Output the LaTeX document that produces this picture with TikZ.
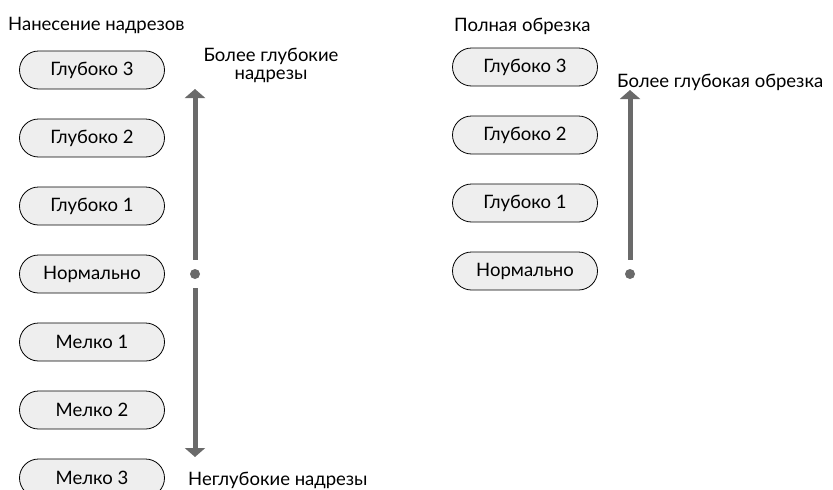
\documentclass[tikz,border=0pt]{standalone}
\usepackage{fontspec}
\setmainfont{Lato}
\usetikzlibrary{arrows.meta}
\definecolor{pillfill}{HTML}{EEEEEE}
\definecolor{arrgray}{HTML}{6A6A6A}
\begin{document}
\begin{tikzpicture}[x=1pt,y=-1pt,
  pill/.style={draw=black, line width=0.8pt, fill=pillfill, rounded corners=19pt,
    minimum width=145pt, minimum height=38pt, inner sep=0pt, font=\fontsize{18.5}{18}\selectfont},
  lbl/.style={font=\fontsize{18.5}{18}\selectfont, inner sep=0pt},
  arr/.style={draw=arrgray, line width=5pt, -{Triangle[width=20pt,length=9pt]}},
  dotn/.style={circle, fill=arrgray, minimum size=10pt, inner sep=0pt}]
\useasboundingbox (0,0) rectangle (833,490);
\node[lbl, anchor=base west] (t1) at (8,30) {Нанесение надрезов};
\node[lbl, anchor=base west] (t2) at (454,31) {Полная обрезка};

\node[pill] (g3) at (92,70) {Глубоко 3};
\node[pill] (g2) at (92,138) {Глубоко 2};
\node[pill] (g1) at (92,206) {Глубоко 1};
\node[pill] (n) at (92,274) {Нормально};
\node[pill] (m1) at (92,342) {Мелко 1};
\node[pill] (m2) at (92,410) {Мелко 2};
\node[pill] (m3) at (92,478) {Мелко 3};

\node[dotn] (d1) at (195,274) {};
\coordinate (up1) at (195,89);
\coordinate (dn1) at (195,457);
\draw[arr, shorten <=9pt] (d1) -- (up1);
\draw[arr, shorten <=9pt] (d1) -- (dn1);
\node[lbl, align=center, anchor=base] (lup) at (271,79) {Более глубокие\\надрезы};
\node[lbl, anchor=base west] (ldn) at (188,485) {Неглубокие надрезы};

\node[pill] (rg3) at (525,67) {Глубоко 3};
\node[pill] (rg2) at (525,135) {Глубоко 2};
\node[pill] (rg1) at (525,203) {Глубоко 1};
\node[pill] (rn) at (525,271) {Нормально};
\node[dotn] (d2) at (630,274) {};
\coordinate (up2) at (630,90);
\draw[arr, shorten <=9pt] (d2) -- (up2);
\node[lbl, anchor=base west] (rup) at (617,87) {Более глубокая обрезка};
\end{tikzpicture}
\end{document}
